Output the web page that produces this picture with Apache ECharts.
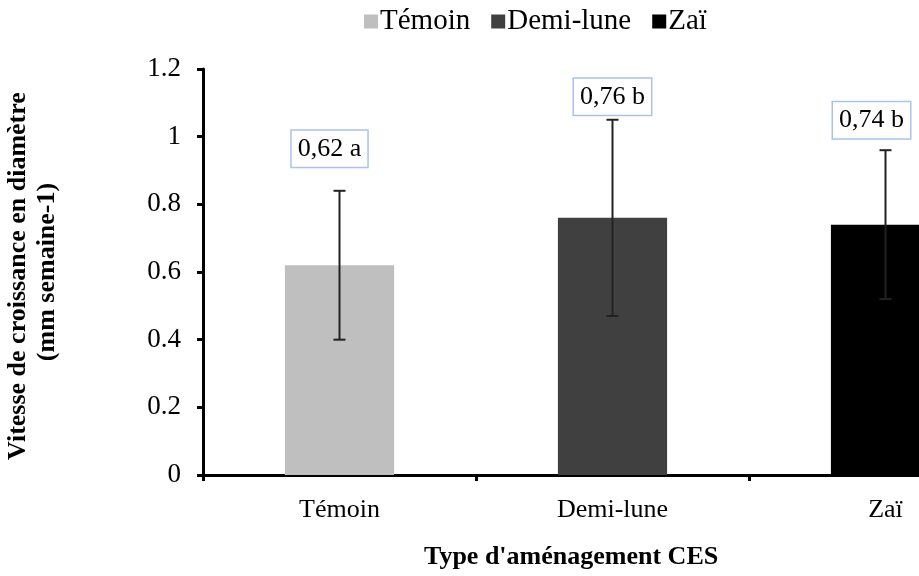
<!DOCTYPE html>
<html>
<head>
<meta charset="utf-8">
<script src="https://cdn.jsdelivr.net/npm/echarts@6/dist/echarts.min.js"></script>
<style>
html,body{margin:0;padding:0;background:#fff;overflow:hidden;width:919px;height:576px;}
#chart{width:1030px;height:576px;}
</style>
</head>
<body>
<div id="chart"></div>
<script>
var categories = ['Témoin', 'Demi-lune', 'Zaï'];
var means = [0.62, 0.76, 0.74];
var errors = [0.22, 0.29, 0.22];
var letters = ['a', 'b', 'b'];
var colors = ['#bfbfbf', '#404040', '#000000'];
var yTicks = [0, 0.2, 0.4, 0.6, 0.8, 1, 1.2];

var FONT = "'Liberation Serif', serif";

var barSeries = categories.map(function (name, i) {
  return {
    name: name,
    type: 'bar',
    barWidth: '40%',
    barGap: '-100%',
    itemStyle: { color: colors[i] },
    data: categories.map(function (c, j) { return j === i ? means[j] : '-'; }),
    z: 2
  };
});

var errData = categories.map(function (c, i) {
  return [i, means[i] - errors[i], means[i] + errors[i]];
});

var labelOffsets = [[-10, -42], [0, -23], [-14, -30]];

var option = {
  animation: false,
  backgroundColor: '#fff',
  textStyle: { fontFamily: FONT },
  legend: {
    top: 2,
    left: 359,
    itemWidth: 14,
    itemHeight: 14,
    itemGap: 21,
    icon: 'rect',
    textStyle: { fontFamily: FONT, fontSize: 29, color: '#000', padding: [0, 0, 0, -3] },
    data: categories
  },
  grid: { left: 203, right: 8, top: 69, bottom: 101 },
  xAxis: {
    type: 'category',
    data: categories,
    axisLine: { lineStyle: { color: '#000', width: 3 } },
    axisTick: { show: true, length: 6, lineStyle: { color: '#000', width: 3 } },
    axisLabel: { fontFamily: FONT, fontSize: 26, color: '#000', margin: 22 }
  },
  yAxis: {
    type: 'value',
    min: 0,
    max: 1.2,
    interval: 0.2,
    axisLine: { show: true, lineStyle: { color: '#000', width: 3 } },
    axisTick: { show: true, length: 6, lineStyle: { color: '#000', width: 3 } },
    splitLine: { show: false },
    axisLabel: {
      fontFamily: FONT, fontSize: 27, color: '#000', margin: 22,
      formatter: function (v) { return String(Math.round(v * 10) / 10); }
    }
  },
  graphic: [
    {
      type: 'text',
      x: 18, y: 276,
      rotation: Math.PI / 2,
      style: {
        text: 'Vitesse de croissance en diamètre',
        fontFamily: FONT, fontSize: 26, fontWeight: 'bold',
        fill: '#000',
        align: 'center',
        verticalAlign: 'middle'
      }
    },
    {
      type: 'text',
      x: 47, y: 272,
      rotation: Math.PI / 2,
      style: {
        text: '(mm semaine-1)',
        fontFamily: FONT, fontSize: 26, fontWeight: 'bold',
        fill: '#000',
        align: 'center',
        verticalAlign: 'middle'
      }
    },
    {
      type: 'text',
      x: 424, y: 557,
      style: {
        text: "Type d'aménagement CES",
        fontFamily: FONT, fontSize: 26, fontWeight: 'bold',
        fill: '#000',
        align: 'left',
        verticalAlign: 'middle'
      }
    }
  ],
  series: barSeries.concat([
    {
      type: 'custom',
      name: 'err',
      z: 5,
      data: errData,
      renderItem: function (params, api) {
        var x = api.value(0);
        var lo = api.coord([x, api.value(1)]);
        var hi = api.coord([x, api.value(2)]);
        var hw = 6;
        var st = { stroke: '#222', lineWidth: 2 };
        return {
          type: 'group',
          children: [
            { type: 'line', shape: { x1: lo[0], y1: lo[1], x2: hi[0], y2: hi[1] }, style: st },
            { type: 'line', shape: { x1: lo[0] - hw, y1: lo[1], x2: lo[0] + hw, y2: lo[1] }, style: st },
            { type: 'line', shape: { x1: hi[0] - hw, y1: hi[1], x2: hi[0] + hw, y2: hi[1] }, style: st }
          ]
        };
      }
    },
    {
      type: 'custom',
      name: 'labels',
      z: 6,
      data: errData,
      renderItem: function (params, api) {
        var i = params.dataIndex;
        var x = api.value(0);
        var hi = api.coord([x, api.value(2)]);
        var off = labelOffsets[i];
        return {
          type: 'text',
          x: hi[0] + off[0],
          y: hi[1] + off[1],
          style: {
            text: String(means[i]).replace('.', ',') + ' ' + letters[i],
            fontFamily: FONT, fontSize: 26,
            fill: '#000',
            align: 'center',
            verticalAlign: 'middle',
            backgroundColor: '#fff',
            borderColor: '#a9c3ea',
            borderWidth: 1.5,
            padding: [6, 6, 4, 6]
          }
        };
      }
    }
  ])
};

var chart = echarts.init(document.getElementById('chart'), null, { renderer: 'canvas' });
chart.setOption(option);
</script>
</body>
</html>
